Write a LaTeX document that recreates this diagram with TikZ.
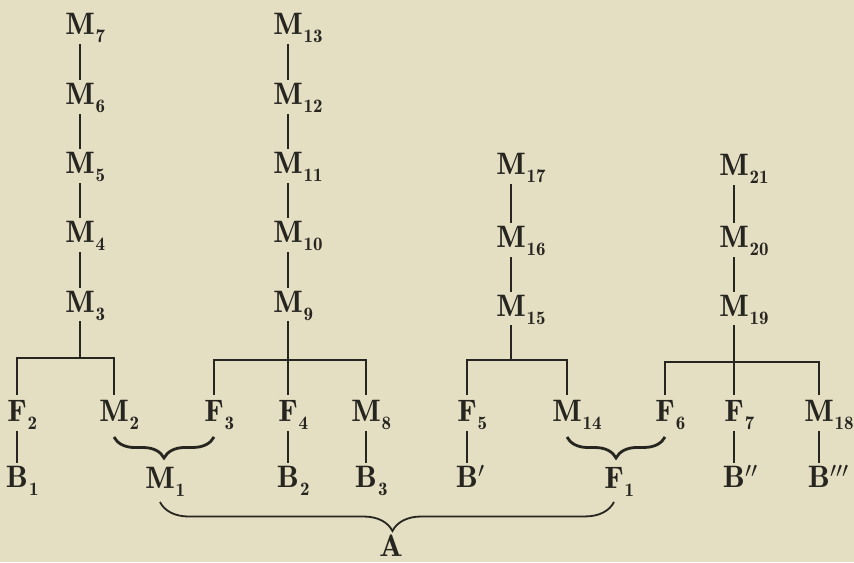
\documentclass[tikz,border=0pt]{standalone}
\usetikzlibrary{decorations.pathreplacing}
\definecolor{paper}{HTML}{E4DEC2}
\definecolor{ink}{HTML}{262520}
\newcommand{\subn}[1]{\rlap{\smash{\raisebox{-4pt}{\hspace{0.5pt}\fontsize{9.5}{10}\selectfont #1}}}}
\newcommand{\prm}[1]{\rlap{\smash{$#1$}}}
\begin{document}
\begin{tikzpicture}[x=0.5pt,y=-0.5pt,
  every node/.style={inner sep=0pt, text=ink, font=\fontsize{15.5}{19}\fontseries{b}\selectfont},
  link/.style={draw=ink, line width=0.8pt, shorten <=4.5pt, shorten >=1.5pt},
  bar/.style={draw=ink, line width=0.8pt, shorten <=2.5pt, shorten >=2.5pt},
  stem/.style={draw=ink, line width=0.8pt, shorten <=4pt},
  smallbrace/.style={draw=ink, line width=1.4pt, decorate, decoration={brace, mirror, amplitude=10.5pt}},
  bigbrace/.style={draw=ink, line width=0.9pt, decorate, decoration={brace, mirror, amplitude=14.5pt, aspect=0.512}}]
\fill[paper] (0,0) rectangle (854,562);
% column 1
\node (m7) at (80,24) {M\subn{7}};
\node (m6) at (80,94) {M\subn{6}};
\node (m5) at (80,163) {M\subn{5}};
\node (m4) at (80,232) {M\subn{4}};
\node (m3) at (80,302) {M\subn{3}};
% column 2
\node (m13) at (288,24) {M\subn{13}};
\node (m12) at (288,94) {M\subn{12}};
\node (m11) at (288,163) {M\subn{11}};
\node (m10) at (288,232) {M\subn{10}};
\node (m9) at (288,302) {M\subn{9}};
% column 3
\node (m17) at (511,164) {M\subn{17}};
\node (m16) at (511,237) {M\subn{16}};
\node (m15) at (511,306) {M\subn{15}};
% column 4
\node (m21) at (734,165) {M\subn{21}};
\node (m20) at (734,237) {M\subn{20}};
\node (m19) at (734,306) {M\subn{19}};
% F row
\node (f2) at (17,411) {F\subn{2}};
\node (m2) at (114,411) {M\subn{2}};
\node (f3) at (214,411) {F\subn{3}};
\node (f4) at (288,411) {F\subn{4}};
\node (m8) at (366,411) {M\subn{8}};
\node (f5) at (467,411) {F\subn{5}};
\node (m14) at (567,411) {M\subn{14}};
\node (f6) at (665,411) {F\subn{6}};
\node (f7) at (734,411) {F\subn{7}};
\node (m18) at (819,411) {M\subn{18}};
% B row
\node (b1) at (17,477) {B\subn{1}};
\node (m1) at (160,478) {M\subn{1}};
\node (b2) at (288,477) {B\subn{2}};
\node (b3) at (366,477) {B\subn{3}};
\node (bp) at (467,477) {B\prm{'}};
\node (f1) at (614,478) {F\subn{1}};
\node (bpp) at (734,477) {B\prm{''}};
\node (bppp) at (819,477) {B\prm{'''}};
\node (a) at (391,546) {A};
% junctions
\coordinate (j1) at (80,358);
\coordinate (j2) at (288,360);
\coordinate (j3) at (511,360);
\coordinate (j4) at (734,362);
% vertical chains
\draw[link] (m7.south) -- (m6.north);
\draw[link] (m6.south) -- (m5.north);
\draw[link] (m5.south) -- (m4.north);
\draw[link] (m4.south) -- (m3.north);
\draw[link] (m13.south) -- (m12.north);
\draw[link] (m12.south) -- (m11.north);
\draw[link] (m11.south) -- (m10.north);
\draw[link] (m10.south) -- (m9.north);
\draw[link] (m17.south) -- (m16.north);
\draw[link] (m16.south) -- (m15.north);
\draw[link] (m21.south) -- (m20.north);
\draw[link] (m20.south) -- (m19.north);
% stems to bars
\draw[stem] (m3.south) -- (j1);
\draw[stem] (m9.south) -- (j2);
\draw[stem] (m15.south) -- (j3);
\draw[stem] (m19.south) -- (j4);
% bars
\draw[bar] (f2.north) |- (j1) -| (m2.north);
\draw[bar] (f3.north) |- (j2) -| (m8.north);
\draw[bar, shorten <=0pt] (j2) -- (f4.north);
\draw[bar] (f5.north) |- (j3) -| (m14.north);
\draw[bar] (f6.north) |- (j4) -| (m18.north);
\draw[bar, shorten <=0pt] (j4) -- (f7.north);
% lower links
\draw[link] (f2.south) -- (b1.north);
\draw[link] (f4.south) -- (b2.north);
\draw[link] (m8.south) -- (b3.north);
\draw[link] (f5.south) -- (bp.north);
\draw[link] (f7.south) -- (bpp.north);
\draw[link] (m18.south) -- (bppp.north);
% braces
\draw[smallbrace] ([yshift=-7.5pt]m2.south) -- ([yshift=-7.5pt]f3.south);
\draw[smallbrace] ([yshift=-7.5pt]m14.south) -- ([yshift=-7.5pt]f6.south);
\draw[bigbrace] ([yshift=-6.5pt]m1.south) -- ([yshift=-6.5pt]f1.south);
\end{tikzpicture}
\end{document}
